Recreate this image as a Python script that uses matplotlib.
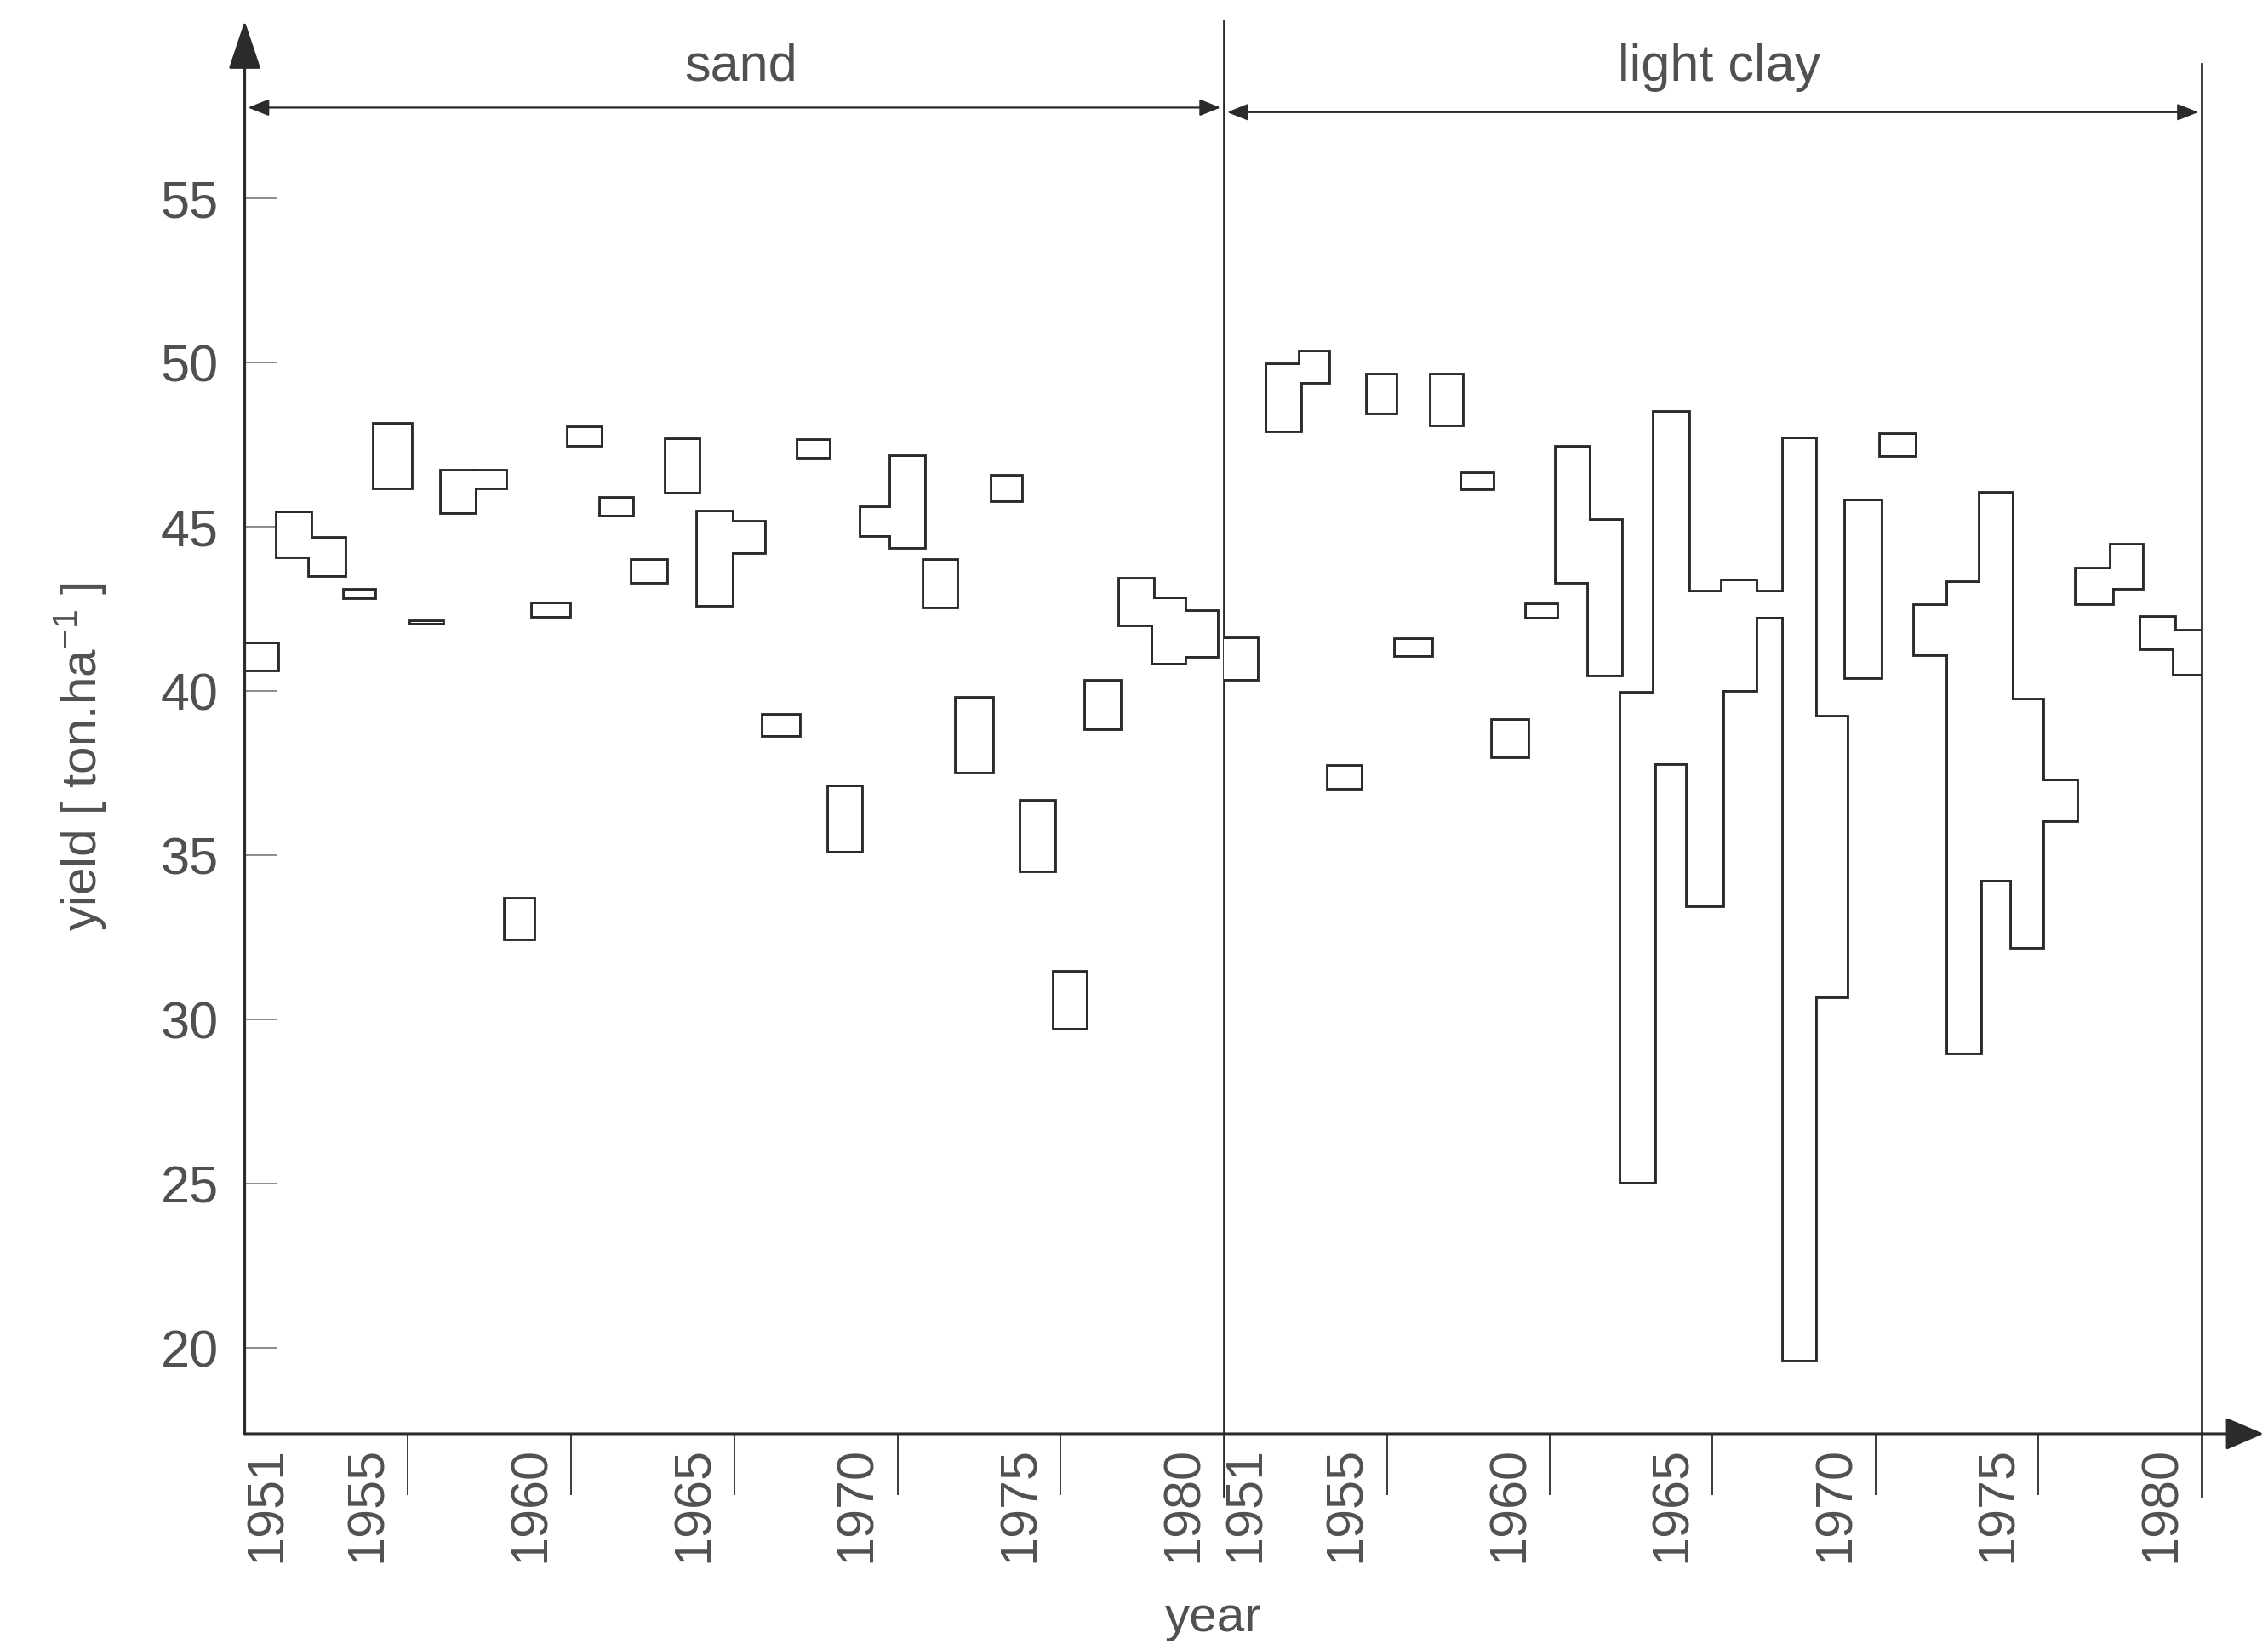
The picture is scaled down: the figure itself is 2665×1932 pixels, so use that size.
import matplotlib
matplotlib.use('Agg')
import matplotlib.pyplot as plt
from matplotlib.patches import Rectangle


# left edge of each yearly box (year units) and its yield range, sand
sand_x = [1951.0, 1952.0, 1953.0, 1954.05, 1954.97, 1956.09, 1957.04, 1958.04, 1958.98, 1959.83,
          1960.93, 1961.91, 1962.87, 1963.92, 1964.89, 1965.93, 1966.9, 1967.97, 1968.9, 1969.89,
          1970.81, 1971.82, 1972.81, 1973.9, 1974.79, 1975.81, 1976.77, 1977.82, 1978.83, 1979.79]
sand_lo = [40.65, 44.08, 43.51, 42.85, 46.20, 42.06, 45.44, 46.20, 32.45, 42.29,
           47.49, 45.36, 43.32, 46.06, 42.62, 44.21, 38.66, 47.12, 35.12, 44.74,
           44.37, 42.56, 37.54, 45.80, 34.53, 29.74, 38.86, 42.02, 40.85, 41.07]
sand_hi = [41.43, 45.40, 44.64, 43.06, 48.10, 42.10, 46.68, 46.68, 33.64, 42.65,
           48.00, 45.86, 43.95, 47.65, 45.44, 45.13, 39.25, 47.62, 37.07, 45.56,
           47.12, 43.97, 39.77, 46.53, 36.63, 31.42, 40.27, 43.40, 42.80, 42.41]

# same for light clay
clay_x = [1951.0, 1952.33, 1953.34, 1954.2, 1955.4, 1956.27, 1957.37, 1958.3, 1959.24, 1960.3,
          1961.2, 1962.2, 1963.19, 1964.2, 1965.24, 1966.29, 1967.3, 1968.17, 1969.13, 1970.1,
          1971.16, 1972.2, 1973.21, 1974.2, 1975.17, 1976.1, 1977.16, 1978.24, 1979.16, 1980.16]
clay_lo = [40.37, 47.93, 49.39, 37.04, 48.47, 41.08, 48.10, 46.17, 38.00, 42.24,
           43.31, 40.49, 25.05, 37.80, 33.46, 40.02, 42.26, 19.64, 30.70, 40.41,
           47.17, 41.10, 28.98, 34.25, 32.20, 36.07, 42.66, 43.14, 41.28, 40.52]
clay_hi = [41.59, 49.93, 50.31, 37.68, 49.60, 41.55, 49.60, 46.60, 39.08, 42.62,
           47.40, 45.18, 39.91, 48.47, 43.00, 43.35, 43.00, 47.66, 39.20, 45.78,
           47.80, 42.60, 43.30, 46.00, 39.72, 37.25, 43.70, 44.44, 42.23, 41.80]

year_labels = [1951, 1955, 1960, 1965, 1970, 1975, 1980]
yield_ticks = [20, 25, 30, 35, 40, 45, 50, 55]
soils = ['sand', 'light clay']

INK = '#2b2b2b'
TXT = '#505050'
SANS = ['Liberation Sans', 'DejaVu Sans']
NARROW = ['Liberation Sans Narrow', 'Liberation Sans', 'DejaVu Sans']

YMIN, YMAX = 17.38, 60.4


def draw_boxes(ax, starts, lows, highs):
    # outline everything first, then cover interiors in white so that
    # touching boxes merge into a single outline
    for i, (x, lo, hi) in enumerate(zip(starts, lows, highs)):
        w = 1.0
        if i + 1 < len(starts) and 0.8 <= starts[i + 1] - x <= 1.15:
            w = starts[i + 1] - x
        w += 0.01
        ax.add_patch(Rectangle((x, lo), w, hi - lo, fill=False, edgecolor=INK,
                               lw=4.2, joinstyle='miter', zorder=2))
        ax.add_patch(Rectangle((x, lo), w, hi - lo, facecolor='white',
                               edgecolor='none', lw=0, zorder=3))


fig = plt.figure(figsize=(26.65, 19.33), dpi=100)
ax1 = fig.add_axes([0.1079, 0.1278, 0.4317, 0.859])
ax2 = fig.add_axes([0.5396, 0.1278, 0.4311, 0.859])

for ax in (ax1, ax2):
    ax.set_facecolor('none')
    ax.set_xlim(1951, 1981)
    ax.set_ylim(YMIN, YMAX)
    for s in ax.spines.values():
        s.set_visible(False)
    ax.set_xticks([1956, 1961, 1966, 1971, 1976])
    ax.tick_params(axis='x', direction='out', length=52, width=1.3, color=INK,
                   labelbottom=False)
    for yr in year_labels:
        x = yr + 0.7 if yr == 1951 else yr - 0.22
        ax.annotate(str(yr), xy=(x, 0), xycoords=('data', 'axes fraction'),
                    xytext=(0, -10), textcoords='offset points', rotation=90,
                    ha='center', va='top', fontsize=44, color=TXT, family=NARROW)

draw_boxes(ax1, sand_x, sand_lo, sand_hi)
draw_boxes(ax2, clay_x, clay_lo, clay_hi)

# y axis on the left panel only
ax1.set_yticks(yield_ticks)
ax1.set_yticklabels([str(v) for v in yield_ticks], family=SANS)
ax1.tick_params(axis='y', direction='in', length=27, width=1.2, color='#777777',
                labelsize=44, labelcolor=TXT, pad=22)
ax2.set_yticks([])

# axis arrows
ax1.annotate('', xy=(0, 1), xytext=(0, 0), xycoords='axes fraction',
             arrowprops=dict(arrowstyle='-|>,head_length=0.9,head_width=0.3',
                             mutation_scale=40, color=INK, lw=2.2,
                             shrinkA=0, shrinkB=0))
ax2.annotate('', xy=(1.0635, 0), xytext=(-1.0012, 0), xycoords='axes fraction',
             annotation_clip=False,
             arrowprops=dict(arrowstyle='-|>,head_length=0.7,head_width=0.3',
                             mutation_scale=40, color=INK, lw=2.2,
                             shrinkA=0, shrinkB=0))

# panel separators
ax1.plot([1981, 1981], [15.5, YMAX], color=INK, lw=2.0, clip_on=False, zorder=4)
ax2.plot([1981, 1981], [15.5, 59.08], color=INK, lw=2.0, clip_on=False, zorder=4)

# soil type headers with span arrows
for ax, name, y_arr in ((ax1, soils[0], 57.76), (ax2, soils[1], 57.62)):
    ax.annotate('', xy=(1980.9, y_arr), xytext=(1951.1, y_arr),
                arrowprops=dict(arrowstyle='<|-|>,head_length=0.5,head_width=0.2',
                                mutation_scale=30, color=INK, lw=1.6,
                                shrinkA=0, shrinkB=0))
    ax.text(1966.2, 58.6, name, ha='center', va='baseline', fontsize=44,
            color=TXT, family=SANS)

fig.text(0.5351, 0.0083, 'year', ha='center', va='baseline', fontsize=42,
         color=TXT, family=SANS)
fig.text(0.0356, 0.54, r'yield [ ton.ha$^{\mathregular{-1}}$ ]', rotation=90,
         ha='center', va='center', fontsize=42, color=TXT, family=SANS)

fig.savefig('out.png', dpi=100, facecolor='white')
